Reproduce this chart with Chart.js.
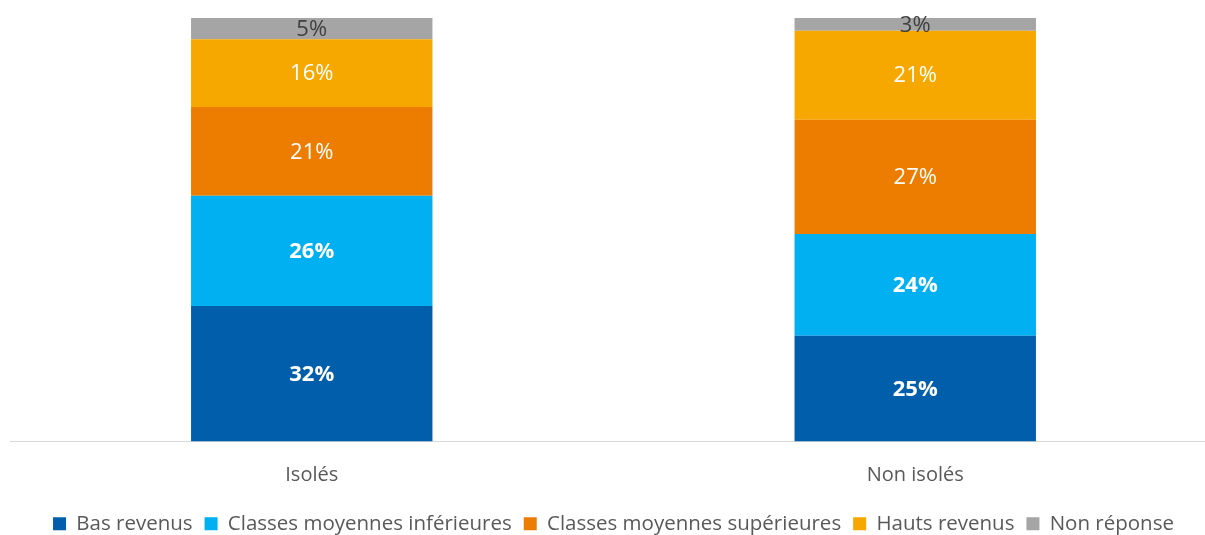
<!DOCTYPE html>
<html>
<head>
<meta charset="utf-8">
<script src="https://cdn.jsdelivr.net/npm/chart.js@4"></script>
<style>
  html, body { margin: 0; padding: 0; background: #fff; overflow: hidden; }
  #wrap { width: 1237px; height: 544px; }
</style>
</head>
<body>
<div id="wrap"><canvas id="chart" width="1237" height="544"></canvas></div>
<script>
const categories = ["Isolés", "Non isolés"];
const seriesNames = ["Bas revenus", "Classes moyennes inférieures", "Classes moyennes supérieures", "Hauts revenus", "Non réponse"];
const basRevenus = [32, 25];
const moyInf = [26, 24];
const moySup = [21, 27];
const hautsRevenus = [16, 21];
const nonReponse = [5, 3];

const colors = ["#005EAA", "#00B0F0", "#ED7D00", "#F6A800", "#A5A5A5"];
const labelStyles = [
  { color: "#fff", weight: "bold" },
  { color: "#fff", weight: "bold" },
  { color: "#fff", weight: "normal" },
  { color: "#fff", weight: "normal" },
  { color: "#404040", weight: "normal" },
];

// draws the value in the middle of each segment
const segmentLabels = {
  id: "segmentLabels",
  afterDatasetsDraw(chart) {
    const ctx = chart.ctx;
    chart.data.datasets.forEach((ds, i) => {
      const meta = chart.getDatasetMeta(i);
      const st = labelStyles[i];
      ctx.save();
      ctx.font = st.weight + " 22px 'Open Sans'";
      ctx.fillStyle = st.color;
      ctx.textAlign = "center";
      ctx.textBaseline = "middle";
      meta.data.forEach((bar, j) => {
        const p = bar.getCenterPoint();
        ctx.fillText(ds.data[j] + "%", p.x, p.y + 1);
      });
      ctx.restore();
    });
  }
};

const values = [basRevenus, moyInf, moySup, hautsRevenus, nonReponse];

new Chart(document.getElementById("chart"), {
  type: "bar",
  data: {
    labels: categories,
    datasets: seriesNames.map((name, i) => ({
      label: name,
      data: values[i],
      backgroundColor: colors[i],
      borderWidth: 0,
      categoryPercentage: 1,
      barPercentage: 0.4,
    })),
  },
  options: {
    responsive: false,
    animation: false,
    layout: { padding: { left: 10, right: 20, top: 18, bottom: 0 } },
    plugins: {
      legend: {
        position: "bottom",
        labels: {
          font: { family: "Open Sans", size: 20.5 },
          color: "#595959",
          boxWidth: 13,
          boxHeight: 13,
          padding: 12,
        },
      },
      tooltip: { enabled: false },
    },
    scales: {
      x: {
        stacked: true,
        grid: { display: false },
        border: { display: true, color: "#d9d9d9", width: 1 },
        ticks: {
          font: { family: "Open Sans", size: 20 },
          color: "#595959",
          padding: 14,
        },
      },
      y: {
        stacked: true,
        min: 0,
        max: 100,
        display: false,
      },
    },
  },
  plugins: [segmentLabels],
});
</script>
</body>
</html>
